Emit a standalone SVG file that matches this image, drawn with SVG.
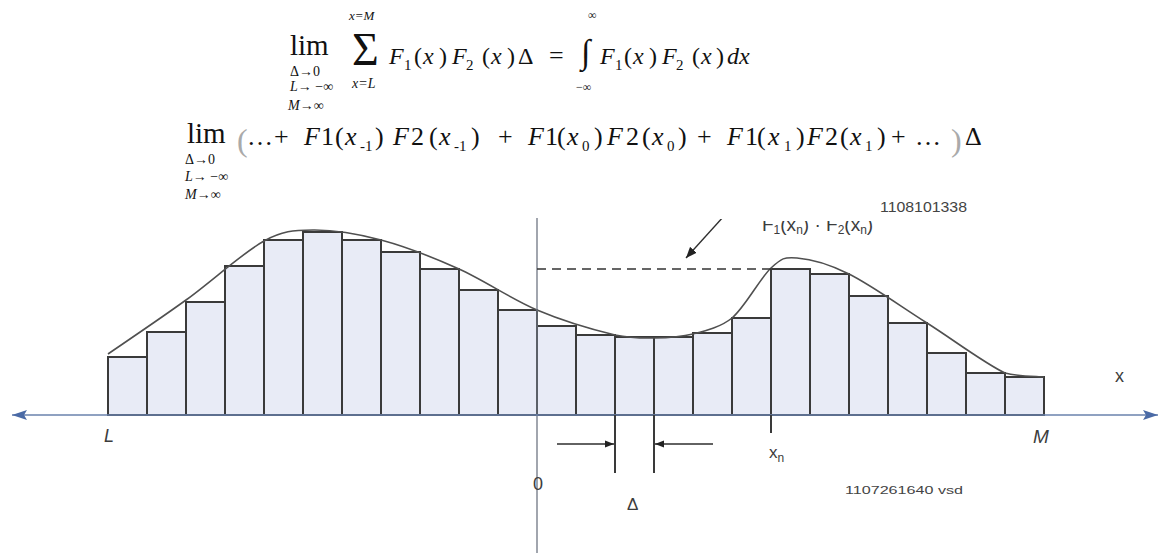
<svg xmlns="http://www.w3.org/2000/svg" width="1161" height="553" viewBox="0 0 1161 553">
<style>
.fm{font-family:"Liberation Serif","Times New Roman",serif;font-size:24px;fill:#111}
.f2{font-size:26px}
.it{font-style:italic}
.sub{font-size:15px}
.ss{font-size:14px}
.lp{fill:#aaa;font-size:32px}
.lb{font-family:"Liberation Sans",Arial,sans-serif;fill:#3c3c3c;font-size:17px}
.sm{font-family:"Liberation Sans",Arial,sans-serif;fill:#444}
.bar{fill:#e8ebf6;stroke:#3a3a3a;stroke-width:2}
.curve{fill:none;stroke:#505050;stroke-width:1.6}
.axis{stroke:#6a82ad;stroke-width:1.4;fill:none}
.dim{stroke:#2e2e2e;stroke-width:1.6;fill:none}
.tick{stroke:#3a3a3a;stroke-width:2}
</style>
<defs>
<marker id="axEnd" markerWidth="16" markerHeight="10" refX="15" refY="5" orient="auto" markerUnits="userSpaceOnUse"><path d="M0,0 L15,5 L0,10 L3,5 z" fill="#4a6aa6"/></marker>
<marker id="axStart" markerWidth="16" markerHeight="10" refX="1" refY="5" orient="auto" markerUnits="userSpaceOnUse"><path d="M16,0 L1,5 L16,10 L13,5 z" fill="#4a6aa6"/></marker>
<marker id="ah" markerWidth="10" markerHeight="8" refX="9" refY="4" orient="auto" markerUnits="userSpaceOnUse"><path d="M0,0.5 L9,4 L0,7.5 z" fill="#222"/></marker>
<marker id="ahBig" markerWidth="12" markerHeight="10" refX="11" refY="5" orient="auto" markerUnits="userSpaceOnUse"><path d="M0,0.5 L11,5 L0,9.5 z" fill="#222"/></marker>
<clipPath id="clipLow"><rect x="0" y="219" width="1161" height="334"/></clipPath>
<clipPath id="clipLbl"><rect x="0" y="221" width="1161" height="332"/></clipPath>
</defs>
<rect width="1161" height="553" fill="#fff"/>

<g id="formula1">
<text class="fm" x="290" y="55" style="font-size:29px">lim</text>
<text class="fm ss" x="290" y="76">Δ→0</text>
<text class="fm ss" x="290" y="91"><tspan class="it">L</tspan>→ −∞</text>
<text class="fm ss" x="288" y="110"><tspan class="it">M</tspan>→∞</text>
<text class="fm it" x="349" y="20" style="font-size:13px">x=M</text>
<text class="fm" x="352" y="65" style="font-size:46px">Σ</text>
<text class="fm ss it" x="352" y="88">x=L</text>
<text class="fm" y="64"><tspan x="389" class="it">F</tspan><tspan x="404" y="70" class="sub">1</tspan><tspan x="414" y="64">(</tspan><tspan x="423" class="it">x</tspan><tspan x="439">)</tspan><tspan x="452" class="it">F</tspan><tspan x="466" y="70" class="sub">2</tspan><tspan x="482" y="64">(</tspan><tspan x="491" class="it">x</tspan><tspan x="507">)</tspan><tspan x="518">Δ</tspan><tspan x="549" style="font-size:26px">=</tspan></text>
<text class="fm" x="581" y="63" style="font-size:34px">∫</text>
<text class="fm" x="588" y="19" style="font-size:12px">∞</text>
<text class="fm" x="576" y="91" style="font-size:12px">−∞</text>
<text class="fm" y="64"><tspan x="600" class="it">F</tspan><tspan x="615" y="70" class="sub">1</tspan><tspan x="624" y="64">(</tspan><tspan x="633" class="it">x</tspan><tspan x="649">)</tspan><tspan x="662" class="it">F</tspan><tspan x="676" y="70" class="sub">2</tspan><tspan x="692" y="64">(</tspan><tspan x="701" class="it">x</tspan><tspan x="716">)</tspan><tspan x="727" class="it">dx</tspan></text>
</g>

<g id="formula2">
<text class="fm" x="187" y="143" style="font-size:29px">lim</text>
<text class="fm ss" x="185" y="164">Δ→0</text>
<text class="fm ss" x="185" y="181"><tspan class="it">L</tspan>→ −∞</text>
<text class="fm ss" x="185" y="199"><tspan class="it">M</tspan>→∞</text>
<text class="fm lp" x="237" y="151">(</text>
<text class="fm f2" y="145"><tspan x="247">…</tspan><tspan x="274">+</tspan><tspan x="304" class="it">F</tspan><tspan x="321">1</tspan><tspan x="335">(</tspan><tspan x="345" class="it">x</tspan><tspan x="360" y="151" class="sub">-1</tspan><tspan x="375" y="145">)</tspan><tspan x="393" class="it">F</tspan><tspan x="411">2</tspan><tspan x="429">(</tspan><tspan x="439" class="it">x</tspan><tspan x="454" y="151" class="sub">-1</tspan><tspan x="471" y="145">)</tspan><tspan x="498">+</tspan><tspan x="528" class="it">F</tspan><tspan x="545">1</tspan><tspan x="557">(</tspan><tspan x="567" class="it">x</tspan><tspan x="582" y="151" class="sub">0</tspan><tspan x="594" y="145">)</tspan><tspan x="607" class="it">F</tspan><tspan x="626">2</tspan><tspan x="642">(</tspan><tspan x="652" class="it">x</tspan><tspan x="667" y="151" class="sub">0</tspan><tspan x="678" y="145">)</tspan><tspan x="697">+</tspan><tspan x="727" class="it">F</tspan><tspan x="745">1</tspan><tspan x="757">(</tspan><tspan x="768" class="it">x</tspan><tspan x="784" y="151" class="sub">1</tspan><tspan x="796" y="145">)</tspan><tspan x="807" class="it">F</tspan><tspan x="825">2</tspan><tspan x="840">(</tspan><tspan x="850" class="it">x</tspan><tspan x="865" y="151" class="sub">1</tspan><tspan x="877" y="145">)</tspan><tspan x="891">+</tspan><tspan x="915">…</tspan><tspan x="965">Δ</tspan></text>
<text class="fm lp" x="951" y="151">)</text>
</g>

<g id="bars">
<rect class="bar" x="108" y="357" width="39" height="58"/>
<rect class="bar" x="147" y="332" width="39" height="83"/>
<rect class="bar" x="186" y="302" width="39" height="113"/>
<rect class="bar" x="225" y="266" width="39" height="149"/>
<rect class="bar" x="264" y="240" width="39" height="175"/>
<rect class="bar" x="303" y="232" width="39" height="183"/>
<rect class="bar" x="342" y="240" width="39" height="175"/>
<rect class="bar" x="381" y="252" width="39" height="163"/>
<rect class="bar" x="420" y="269" width="39" height="146"/>
<rect class="bar" x="459" y="290" width="39" height="125"/>
<rect class="bar" x="498" y="310" width="39" height="105"/>
<rect class="bar" x="537" y="326" width="39" height="89"/>
<rect class="bar" x="576" y="335" width="39" height="80"/>
<rect class="bar" x="615" y="337" width="39" height="78"/>
<rect class="bar" x="654" y="337" width="39" height="78"/>
<rect class="bar" x="693" y="333" width="39" height="82"/>
<rect class="bar" x="732" y="318" width="39" height="97"/>
<rect class="bar" x="771" y="269" width="39" height="146"/>
<rect class="bar" x="810" y="274" width="39" height="141"/>
<rect class="bar" x="849" y="296" width="39" height="119"/>
<rect class="bar" x="888" y="323" width="39" height="92"/>
<rect class="bar" x="927" y="353" width="39" height="62"/>
<rect class="bar" x="966" y="373" width="39" height="42"/>
<rect class="bar" x="1005" y="377" width="39" height="38"/>
</g>

<g id="curve">
<path class="curve" d="M108,354 C121,345 160,318.8 186,300 C212,281.2 242.8,252.7 264,241 C282,231 293.5,230.2 313,230 C332.5,229.8 356.7,233.5 381,240 C405.3,246.5 433,257.3 459,269 C485,280.7 511,299 537,310 C563,321 595.5,330.3 615,335 C632,338.5 641,338.2 654,338 C667,337.8 680,337.3 693,334 C706,330.7 721,327 732,318 C745,307 760.2,278 771,268 C781.8,258 784,257 797,258 C810,259 827.3,263.2 849,274 C870.7,284.8 901,306.5 927,323 C953,339.5 985.5,364 1005,373 C1018,376.5 1037.5,376.3 1044,377"/>
</g>

<g id="axes">
<line x1="537" y1="218" x2="537" y2="553" stroke="#6f7683" stroke-width="1.3"/>
</g>

<g id="connectors">
<path class="axis" d="M12,415 L1158,415" marker-start="url(#axStart)" marker-end="url(#axEnd)"/>
<line class="tick" x1="615" y1="415" x2="615" y2="473"/>
<line class="tick" x1="654" y1="415" x2="654" y2="473"/>
<line class="tick" x1="771" y1="415" x2="771" y2="433"/>
<line class="dim" x1="557" y1="444" x2="614" y2="444" marker-end="url(#ah)"/>
<line class="dim" x1="713" y1="444" x2="655" y2="444" marker-end="url(#ah)"/>
<line x1="537" y1="269" x2="771" y2="269" stroke="#333" stroke-width="1.6" stroke-dasharray="9 6"/>
<line x1="724" y1="216" x2="686" y2="258" stroke="#2e2e2e" stroke-width="1.4" marker-end="url(#ahBig)" clip-path="url(#clipLow)"/>
</g>

<g id="labels">
<text class="lb" x="762" y="231" style="font-size:19px" clip-path="url(#clipLbl)">F<tspan font-size="12" dy="3">1</tspan><tspan dy="-3">(x</tspan><tspan font-size="12" dy="3">n</tspan><tspan dy="-3">) · F</tspan><tspan font-size="12" dy="3">2</tspan><tspan dy="-3">(x</tspan><tspan font-size="12" dy="3">n</tspan><tspan dy="-3">)</tspan></text>
<text class="sm" x="880" y="212" font-size="14" textLength="87" lengthAdjust="spacingAndGlyphs">1108101338</text>
<text class="lb it" x="104" y="442" style="font-size:18px">L</text>
<text class="lb it" x="1033" y="443" style="font-size:19px">M</text>
<text class="lb" x="1115" y="382" style="font-size:18px">x</text>
<text class="lb" x="533" y="490" style="font-size:18px">0</text>
<text class="lb" x="627" y="510" style="font-size:17px">Δ</text>
<text class="lb" x="769" y="458" style="font-size:17px">x<tspan font-size="12" dy="4">n</tspan></text>
<text class="sm" x="845" y="494" font-size="11" textLength="118" lengthAdjust="spacingAndGlyphs">1107261640 vsd</text>
</g>
</svg>
